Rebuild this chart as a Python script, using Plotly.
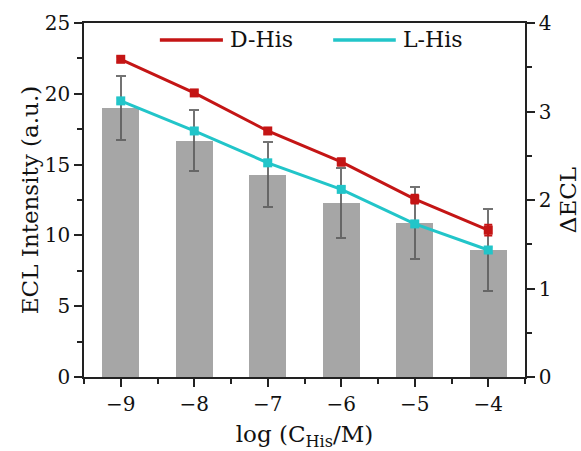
import plotly.graph_objects as go

log_c = [-9, -8, -7, -6, -5, -4]
ecl_intensity = [19.0, 16.7, 14.3, 12.3, 10.85, 9.0]
ecl_err = [2.25, 2.15, 2.3, 2.45, 2.55, 2.9]
d_his = [3.59, 3.21, 2.78, 2.43, 2.01, 1.66]
d_err = [0.03, 0.03, 0.03, 0.04, 0.05, 0.06]
l_his = [3.12, 2.78, 2.42, 2.12, 1.73, 1.435]
l_err = [0.03, 0.03, 0.03, 0.03, 0.03, 0.03]

RED = "#c41515"
TEAL = "#22c5c9"
FONT = "DejaVu Serif"

fig = go.Figure()
fig.add_trace(go.Bar(
    x=log_c, y=ecl_intensity, width=0.5,
    marker=dict(color="#a6a6a6", line=dict(width=0)),
    error_y=dict(type="data", array=ecl_err, color="rgba(90,90,90,0.85)", thickness=2, width=5),
    showlegend=False, yaxis="y"))
fig.add_trace(go.Scatter(
    x=log_c, y=d_his, mode="lines+markers", name="D-His",
    line=dict(color=RED, width=3), marker=dict(symbol="square", size=9, color=RED),
    error_y=dict(type="data", array=d_err, color=RED, thickness=2, width=4),
    showlegend=False, yaxis="y2"))
fig.add_trace(go.Scatter(
    x=log_c, y=l_his, mode="lines+markers", name="L-His",
    line=dict(color=TEAL, width=3), marker=dict(symbol="square", size=9, color=TEAL),
    error_y=dict(type="data", array=l_err, color=TEAL, thickness=2, width=4),
    showlegend=False, yaxis="y2"))

axis_common = dict(showline=True, linecolor="#222", linewidth=1.5, ticks="outside",
                   ticklen=8, tickwidth=1.5, tickcolor="#222", showgrid=False, zeroline=False,
                   automargin=False,
                   tickfont=dict(family=FONT, size=20, color="#111"))

fig.update_layout(
    width=581, height=451,
    margin=dict(l=84, r=56, t=23, b=74),
    paper_bgcolor="white", plot_bgcolor="white",
    bargap=0,
    font=dict(family=FONT, color="#111"),
    xaxis=dict(range=[-9.5, -3.5], tickvals=log_c, ticktext=["−9", "−8", "−7", "−6", "−5", "−4"],
               mirror=True,
               minor=dict(ticks="outside", ticklen=5, tickwidth=1.5, tickcolor="#222", dtick=0.5, tick0=-9.5),
               title=dict(text="log (C<sub>His</sub>/M)", font=dict(family=FONT, size=23), standoff=11),
               **axis_common),
    yaxis=dict(range=[0, 25], dtick=5,
               minor=dict(ticks="outside", ticklen=5, tickwidth=1.5, tickcolor="#222", dtick=2.5),
               title=dict(text="ECL Intensity (a.u.)", font=dict(family=FONT, size=23), standoff=0),
               **axis_common),
    yaxis2=dict(range=[0, 4], dtick=1, overlaying="y", side="right",
                minor=dict(ticks="outside", ticklen=5, tickwidth=1.5, tickcolor="#222", dtick=0.5),
                title=dict(text="ΔECL", font=dict(family=FONT, size=23), standoff=11),
                **axis_common),
)

# legend drawn manually
leg = [("D-His", RED, 0.172, 0.315), ("L-His", TEAL, 0.565, 0.707)]
for name, col, x0, x1 in leg:
    fig.add_shape(type="line", xref="paper", yref="paper", x0=x0, x1=x1, y0=0.952, y1=0.952,
                  line=dict(color=col, width=3.5))
    fig.add_annotation(xref="paper", yref="paper", x=x1 + 0.012, y=0.952, text=name,
                       showarrow=False, xanchor="left", yanchor="middle",
                       font=dict(family=FONT, size=22, color="#111"))

fig.write_html("out.html")
